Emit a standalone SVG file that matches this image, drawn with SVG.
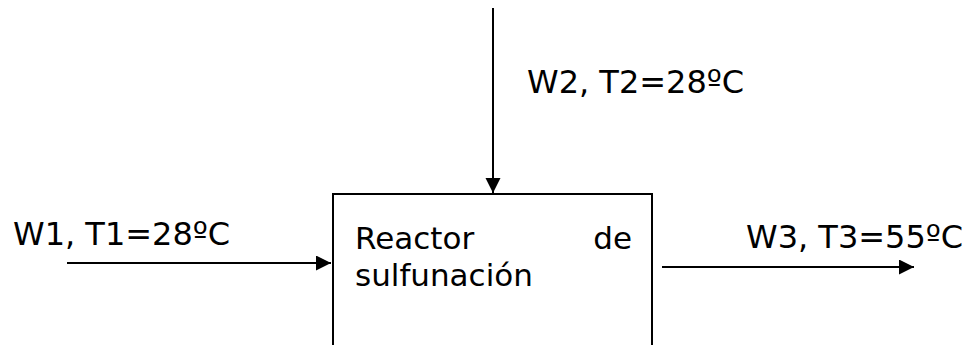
<svg xmlns="http://www.w3.org/2000/svg" width="970" height="345" viewBox="0 0 970 345">
<style>
text{font-family:"DejaVu Sans","Verdana",sans-serif;font-size:32px;fill:#000}
text.in{font-size:31px}
.ln{stroke:#000;stroke-width:2;fill:none}
</style>
<defs>
<marker id="ah" markerUnits="userSpaceOnUse" markerWidth="16" markerHeight="16" refX="15" refY="7.5" orient="auto">
<path d="M0,0 L15,7.5 L0,15 Z" fill="#000"/>
</marker>
</defs>
<rect width="970" height="345" fill="#fff"/>
<g id="reactor">
<path class="ln" d="M333,350 V194 H652 V350"/>
<text class="in" x="355" y="249">Reactor</text>
<text class="in" x="632" y="249" text-anchor="end">de</text>
<text class="in" x="355" y="286">sulfunación</text>
</g>
<g id="connectors">
<line class="ln" x1="493" y1="8" x2="493" y2="193" marker-end="url(#ah)"/>
<line class="ln" x1="67" y1="263" x2="331" y2="263" marker-end="url(#ah)"/>
<line class="ln" x1="662" y1="267" x2="914" y2="267" marker-end="url(#ah)"/>
</g>
<g id="labels">
<text x="527" y="93">W2, T2=28ºC</text>
<text x="13" y="245">W1, T1=28ºC</text>
<text x="746" y="248">W3, T3=55ºC</text>
</g>
</svg>
